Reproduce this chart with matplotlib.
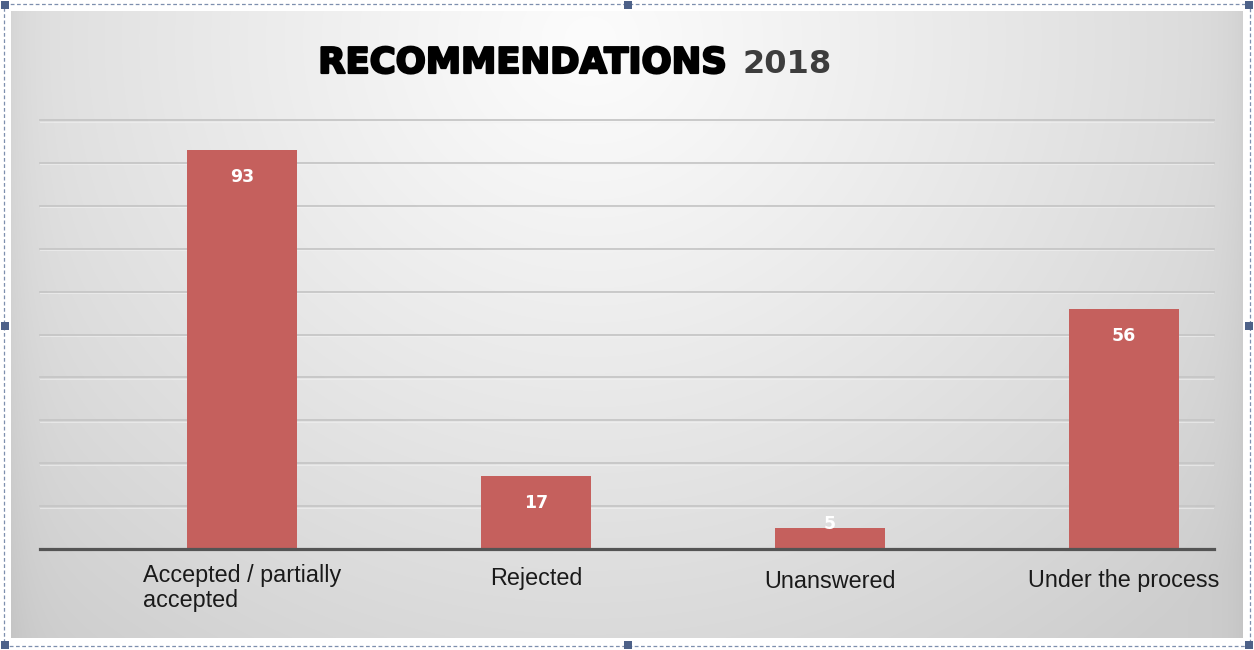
import numpy as np
import matplotlib
matplotlib.use("Agg")
import matplotlib.pyplot as plt
import matplotlib.patheffects as pe
from matplotlib.patches import Rectangle

# Chart data
categories = ["Accepted / partially\naccepted", "Rejected", "Unanswered", "Under the process"]
values = [93, 17, 5, 56]
title_main = "RECOMMENDATIONS"
title_year = "2018"
grid_levels = [10, 20, 30, 40, 50, 60, 70, 80, 90, 100]

W, H = 1254, 650
DPI = 100
fig = plt.figure(figsize=(W / DPI, H / DPI), dpi=DPI)
fig.patch.set_facecolor("white")


def fx(px):
    return px / W


def fy(py):
    return 1 - py / H


# --- chart box with a soft radial grey gradient -----------------------------
bx0, by0, bx1, by1 = 11, 11, 1243, 638
bg = fig.add_axes([fx(bx0), fy(by1), fx(bx1 - bx0), (by1 - by0) / H])
bg.set_axis_off()
xs = np.arange(bx0, bx1)
ys = np.arange(by0, by1)
X, Y = np.meshgrid(xs, ys)
r = np.sqrt(((X - 590) / 780.0) ** 2 + ((Y - 40) / 720.0) ** 2)
val = 252 - 42 * np.clip(r, 0, 1.1) ** 1.1
# slight darkening along the left/right edges
edge = np.minimum(X - bx0, bx1 - X)
val -= 8 * np.exp(-edge / 18.0)
val = np.clip(val, 195, 252) / 255.0
bg.imshow(np.dstack([val, val, val]), extent=[bx0, bx1, by1, by0],
          aspect="auto", interpolation="bilinear")
bg.set_xlim(bx0, bx1)
bg.set_ylim(by1, by0)

# --- main bar axes -----------------------------------------------------------
ax_l, ax_r, ax_t, ax_b = 40, 1214, 120, 549
ax = fig.add_axes([fx(ax_l), fy(ax_b), fx(ax_r - ax_l), (ax_b - ax_t) / H])
ax.patch.set_alpha(0)
for s in ax.spines.values():
    s.set_visible(False)

slot = 294.0
first_center = 242.0
ax.set_xlim((ax_l - first_center) / slot, (ax_r - first_center) / slot)
ax.set_ylim(0, 100)
px_per_unit = (ax_b - ax_t) / 100.0

for g in grid_levels:
    ax.axhline(g, color="#c6c6c6", lw=1.3, zorder=1, clip_on=False)
    ax.axhline(g - 0.35, color="#f2f2f2", lw=0.8, zorder=1, alpha=0.6)

pos = np.arange(len(categories))
ax.bar(pos, values, width=0.375, color="#c5605d", zorder=2)
ax.axhline(0, color="#545454", lw=2.3, zorder=3, clip_on=False)

ax.set_xticks([])
ax.set_yticks([])

# value labels inside the bars (short bars push the label up to stay readable)
for p, v in zip(pos, values):
    drop = min(27.0, v * px_per_unit - 25.0)
    ax.annotate(str(v), xy=(p, v), xytext=(0, -drop * 0.72), textcoords="offset points",
                ha="center", va="center", color="white", fontsize=12.5,
                fontweight="bold", family="DejaVu Sans", zorder=4)

# category labels under the baseline
label_drop_px = [39, 29, 33, 31]
for p, lab, d in zip(pos, categories, label_drop_px):
    ax.annotate(lab, xy=(p, 0), xytext=(0, -d * 0.72), textcoords="offset points",
                ha="center", va="center", multialignment="left",
                color="#1a1a1a", fontsize=16.8, family="Liberation Sans",
                linespacing=1.12, annotation_clip=False)

# --- title ------------------------------------------------------------------
fig.text(fx(726), fy(73), title_main, ha="right", va="baseline",
         fontsize=25.5, fontweight="bold", family="DejaVu Sans", color="#000000",
         path_effects=[pe.withStroke(linewidth=1.6, foreground="#000000")])
fig.text(fx(742), fy(73), title_year, ha="left", va="baseline",
         fontsize=23, fontweight="bold", family="DejaVu Sans", color="#3d3d3d")

# --- selection frame with handles -------------------------------------------
frame = fig.add_axes([0, 0, 1, 1], zorder=10)
frame.set_axis_off()
frame.set_xlim(0, W)
frame.set_ylim(H, 0)
frame.patch.set_alpha(0)
frame.add_patch(Rectangle((4, 4), W - 8, H - 8, fill=False, ec="#7d8fae",
                          lw=0.9, ls=(0, (3, 2))))
for hx in (5, 628, W - 5):
    for hy in (5, 326, H - 5):
        if hx == 628 and hy == 326:
            continue
        frame.add_patch(Rectangle((hx - 4, hy - 4), 8, 8, fc="#4d6188", ec="none"))

fig.savefig("out.png", dpi=DPI)
